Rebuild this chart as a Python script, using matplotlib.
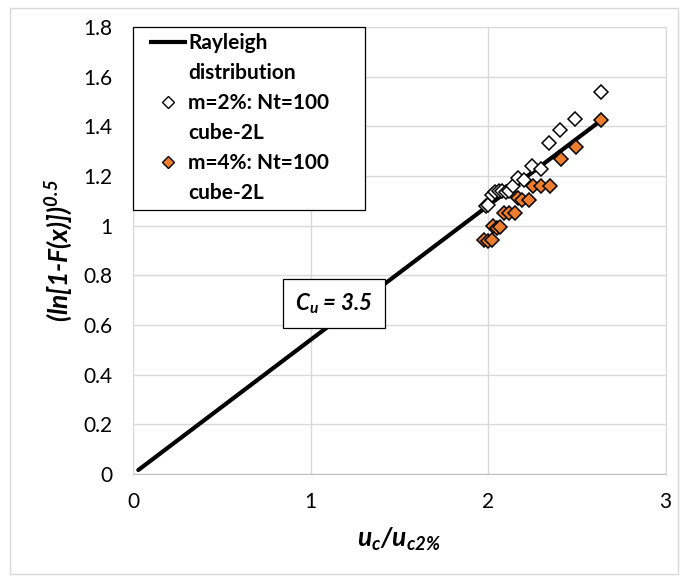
import numpy as np
import matplotlib
matplotlib.use("Agg")
import matplotlib.pyplot as plt
from matplotlib.lines import Line2D
from matplotlib.patches import Rectangle
from matplotlib.legend_handler import HandlerLine2D

plt.rcParams['font.family'] = ['Lato', 'DejaVu Sans']
plt.rcParams['mathtext.default'] = 'regular'

# Rayleigh line
rayleigh_x = [0.03, 0.5, 1.0, 1.5, 2.0, 2.63]
rayleigh_y = [0.016, 0.27, 0.54, 0.81, 1.08, 1.42]

# m=2%: Nt=100 cube-2L (open diamonds)
m2_x = [1.99, 2.00, 2.02, 2.04, 2.06, 2.08, 2.10, 2.12, 2.14, 2.17, 2.20,
        2.25, 2.30, 2.345, 2.405, 2.49, 2.635]
m2_y = [1.08, 1.085, 1.125, 1.135, 1.14, 1.14, 1.135, 1.14, 1.16, 1.19, 1.185,
        1.24, 1.228, 1.334, 1.384, 1.431, 1.539]

# m=4%: Nt=100 cube-2L (orange diamonds)
m4_x = [1.98, 2.00, 2.02, 2.03, 2.05, 2.068, 2.088, 2.118, 2.15, 2.167,
        2.19, 2.229, 2.254, 2.296, 2.347, 2.409, 2.496, 2.637]
m4_y = [0.944, 0.94, 0.941, 0.998, 0.99, 0.993, 1.053, 1.049, 1.049, 1.113,
        1.105, 1.105, 1.158, 1.158, 1.158, 1.267, 1.318, 1.425]

labels = ['Rayleigh', 'distribution', 'm=2%: Nt=100', 'cube-2L',
          'm=4%: Nt=100', 'cube-2L']

orange = '#ED7D31'
grid_c = '#D9D9D9'

fig = plt.figure(figsize=(6.88, 5.81), dpi=100)
ax = fig.add_axes([133/688, 1 - 474/581, (665.5 - 133)/688, (474 - 27)/581])

# outer chart border
fig.patches.append(Rectangle((10/688, 7/581), 668/688, 566/581,
                             transform=fig.transFigure, fill=False,
                             edgecolor=grid_c, linewidth=1.0))

ax.plot(rayleigh_x, rayleigh_y, color='black', lw=3.0,
        solid_capstyle='round', zorder=3)
ax.plot(m2_x, m2_y, linestyle='none', marker='D', ms=7.5, mfc='white',
        mec='black', mew=1.1, zorder=4)
ax.plot(m4_x, m4_y, linestyle='none', marker='D', ms=7.5, mfc=orange,
        mec='black', mew=1.1, zorder=5)

ax.set_xlim(0, 3)
ax.set_ylim(0, 1.8)
ax.set_xticks([0, 1, 2, 3])
ax.set_yticks(np.arange(0, 1.81, 0.2))
ax.set_yticklabels(['0', '0.2', '0.4', '0.6', '0.8', '1', '1.2', '1.4', '1.6', '1.8'])
ax.grid(True, color=grid_c, lw=1.0)
ax.set_axisbelow(True)
for s in ax.spines.values():
    s.set_color(grid_c)
ax.spines['bottom'].set_color('#BFBFBF')
ax.tick_params(length=0, labelsize=15, colors='black')
ax.tick_params(axis='x', pad=13)
ax.tick_params(axis='y', pad=15)

ax.set_xlabel('u$_c$/u$_{c2\\%}$', fontsize=19, fontweight='bold',
              fontstyle='italic', labelpad=10)
ax.set_ylabel('(ln[1-F(x)])$^{0.5}$', fontsize=19, fontweight='bold',
              fontstyle='italic', labelpad=6)

ax.text(1.131, 0.685, 'C$_u$ = 3.5', fontsize=16, fontweight='bold',
        fontstyle='italic', ha='center', va='center', zorder=6,
        bbox=dict(boxstyle='square,pad=0.55', fc='white', ec='black', lw=0.9))

# legend: one row per text line, like the wrapped Excel legend
handles = [
    Line2D([], [], color='black', lw=3.0),
    Line2D([], [], linestyle='none'),
    Line2D([], [], linestyle='none', marker='D', ms=6, mfc='white', mec='black', mew=1.0),
    Line2D([], [], linestyle='none'),
    Line2D([], [], linestyle='none', marker='D', ms=6, mfc=orange, mec='black', mew=1.0),
    Line2D([], [], linestyle='none'),
]
leg = ax.legend(handles, labels, loc='upper left', bbox_to_anchor=(0, 0, 0.436, 1),
                mode='expand', borderaxespad=0, fancybox=False, framealpha=1,
                edgecolor='black',
                prop={'family': ['Lato', 'DejaVu Sans'], 'weight': 'bold', 'size': 15},
                handlelength=2.2, handletextpad=0.15, labelspacing=0.48,
                borderpad=0.3,
                handler_map={Line2D: HandlerLine2D(xpad=0.55)})
leg.get_frame().set_linewidth(0.9)
leg.set_zorder(7)

fig.savefig('out.png', dpi=100)
